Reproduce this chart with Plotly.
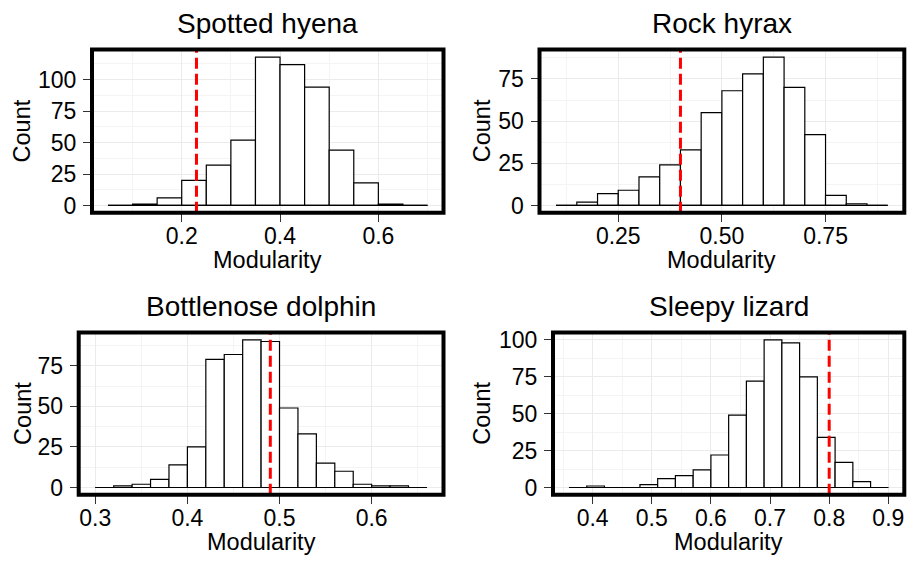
import plotly.graph_objects as go

W, H = 909, 565

# ---------------- data ----------------
titles = ["Spotted hyena", "Rock hyrax", "Bottlenose dolphin", "Sleepy lizard"]

hyena_start, hyena_width = 0.05, 0.05
hyena_counts = [0, 1, 6, 20, 32, 52, 118, 112, 94, 44, 18, 1, 0]

hyrax_start, hyrax_width = 0.10, 0.05
hyrax_counts = [0, 2, 7, 9, 17, 24, 33, 55, 68, 78, 88, 70, 42, 6, 1, 0]

dolphin_start, dolphin_width = 0.30, 0.02
dolphin_counts = [0, 1, 2, 5, 14, 25, 79, 82, 91, 90, 49, 33, 15, 10, 2, 1, 1, 0]

lizard_start, lizard_width = 0.36, 0.03
lizard_counts = [0, 1, 0, 0, 2, 6, 8, 12, 22, 49, 72, 100, 98, 75, 34, 17, 4, 0]

observed = [0.23, 0.40, 0.49, 0.80]

hyena_xticks = [0.2, 0.4, 0.6]
hyrax_xticks = [0.25, 0.50, 0.75]
dolphin_xticks = [0.3, 0.4, 0.5, 0.6]
lizard_xticks = [0.4, 0.5, 0.6, 0.7, 0.8, 0.9]
hyena_yticks = [0, 25, 50, 75, 100]
hyrax_yticks = [0, 25, 50, 75]
dolphin_yticks = [0, 25, 50, 75]
lizard_yticks = [0, 25, 50, 75, 100]

hyrax_xlabels = ["0.25", "0.50", "0.75"]

x_title = "Modularity"
y_title = "Count"

# ---------------- layout (pixels) ----------------
panels_px = [
    (92.0, 443.5, 45.5, 212.0),
    (539.5, 904.3, 45.5, 212.0),
    (78.7, 443.5, 334.0, 499.6),
    (553.0, 904.3, 334.0, 499.6),
]
title_baseline = [28.5, 28.5, 316.8, 316.8]
xtitle_baseline = [268.0, 268.0, 555.6, 555.6]
ytitle_x = [22.2, 482.0, 22.2, 482.0]

FONT = "Liberation Sans, Arial, Helvetica, sans-serif"
TICK_FS = 23
AXT_FS = 23.5
TITLE_FS = 28

datasets = [
    (hyena_start, hyena_width, hyena_counts, hyena_xticks, None, hyena_yticks),
    (hyrax_start, hyrax_width, hyrax_counts, hyrax_xticks, hyrax_xlabels, hyrax_yticks),
    (dolphin_start, dolphin_width, dolphin_counts, dolphin_xticks, None, dolphin_yticks),
    (lizard_start, lizard_width, lizard_counts, lizard_xticks, None, lizard_yticks),
]

fig = go.Figure()
annotations = []
shapes = []


def minor_vals(ticks, lo, hi):
    step = ticks[1] - ticks[0]
    vals = []
    v = ticks[0] - step / 2
    while v > lo:
        vals.append(v)
        v -= step
    v = ticks[0] + step / 2
    while v < hi:
        vals.append(v)
        v += step
    return sorted(vals)


for i, (start, width, counts, xt, xl, yt) in enumerate(datasets):
    n = i + 1
    xs = "" if n == 1 else str(n)
    xref, yref = "x" + xs, "y" + xs
    edges = [start + k * width for k in range(len(counts) + 1)]
    centers = [start + (k + 0.5) * width for k in range(len(counts))]
    xlo, xhi = edges[0], edges[-1]
    xr = [xlo - 0.05 * (xhi - xlo), xhi + 0.05 * (xhi - xlo)]
    ymax = max(counts)
    yr = [-0.05 * ymax, 1.05 * ymax]

    fig.add_trace(go.Scatter(
        x=[xlo, xhi], y=[0, 0], mode="lines",
        line=dict(color="black", width=1.2),
        xaxis=xref, yaxis=yref, showlegend=False, hoverinfo="skip"))
    fig.add_trace(go.Bar(
        x=centers, y=counts, width=width,
        marker=dict(color="white", line=dict(color="black", width=1.2)),
        xaxis=xref, yaxis=yref, showlegend=False))

    l, r, t, b = panels_px[i]
    dom_x = [l / W, r / W]
    dom_y = [1 - b / H, 1 - t / H]

    xaxis = dict(
        domain=dom_x, range=xr, anchor=yref, showline=False, zeroline=False,
        tickmode="array", tickvals=xt, ticktext=xl if xl else [str(v) for v in xt],
        ticks="outside", ticklen=8, tickwidth=1.1, tickcolor="#333333",
        ticklabelstandoff=-5,
        tickfont=dict(family=FONT, size=TICK_FS, color="black"),
        showgrid=True, gridcolor="#EBEBEB", gridwidth=1.1,
        minor=dict(tickmode="array", tickvals=minor_vals(xt, xr[0], xr[1]),
                   showgrid=True, gridcolor="#F4F4F4", gridwidth=1, ticks=""),
        fixedrange=True,
    )
    yaxis = dict(
        domain=dom_y, range=yr, anchor=xref, showline=False, zeroline=False,
        tickmode="array", tickvals=yt, ticktext=[str(v) for v in yt],
        ticks="outside", ticklen=8, tickwidth=1.1, tickcolor="#333333",
        ticklabelstandoff=2,
        tickfont=dict(family=FONT, size=TICK_FS, color="black"),
        showgrid=True, gridcolor="#EBEBEB", gridwidth=1.1,
        minor=dict(tickmode="array", tickvals=minor_vals(yt, yr[0], yr[1]),
                   showgrid=True, gridcolor="#F4F4F4", gridwidth=1, ticks=""),
        fixedrange=True,
    )
    fig.layout["xaxis" + xs] = xaxis
    fig.layout["yaxis" + xs] = yaxis

    # observed value line
    shapes.append(dict(type="line", xref=xref, yref=yref + " domain",
                       x0=observed[i], x1=observed[i], y0=0, y1=1,
                       line=dict(color="#FF0000", width=3, dash="11px,5px"),
                       layer="above"))
    # panel border
    shapes.append(dict(type="rect", xref=xref + " domain", yref=yref + " domain",
                       x0=0, x1=1, y0=0, y1=1,
                       line=dict(color="black", width=4), layer="above"))

    cx = (l + r) / 2
    annotations.append(dict(text=titles[i], x=cx / W, y=1 - (title_baseline[i] - 0.35 * TITLE_FS) / H,
                            xref="paper", yref="paper", xanchor="center", yanchor="middle",
                            showarrow=False, font=dict(family=FONT, size=TITLE_FS, color="black")))
    annotations.append(dict(text=x_title, x=cx / W, y=1 - (xtitle_baseline[i] - 0.35 * AXT_FS) / H,
                            xref="paper", yref="paper", xanchor="center", yanchor="middle",
                            showarrow=False, font=dict(family=FONT, size=AXT_FS, color="black")))
    annotations.append(dict(text=y_title, x=ytitle_x[i] / W, y=1 - ((t + b) / 2) / H,
                            xref="paper", yref="paper", xanchor="center", yanchor="middle",
                            textangle=-90,
                            showarrow=False, font=dict(family=FONT, size=AXT_FS, color="black")))

fig.update_layout(
    width=W, height=H, margin=dict(l=0, r=0, t=0, b=0),
    paper_bgcolor="white", plot_bgcolor="white",
    barmode="overlay", showlegend=False,
    annotations=annotations, shapes=shapes,
    font=dict(family=FONT, color="black"),
)

fig.write_html("out.html", config={"displayModeBar": False})
